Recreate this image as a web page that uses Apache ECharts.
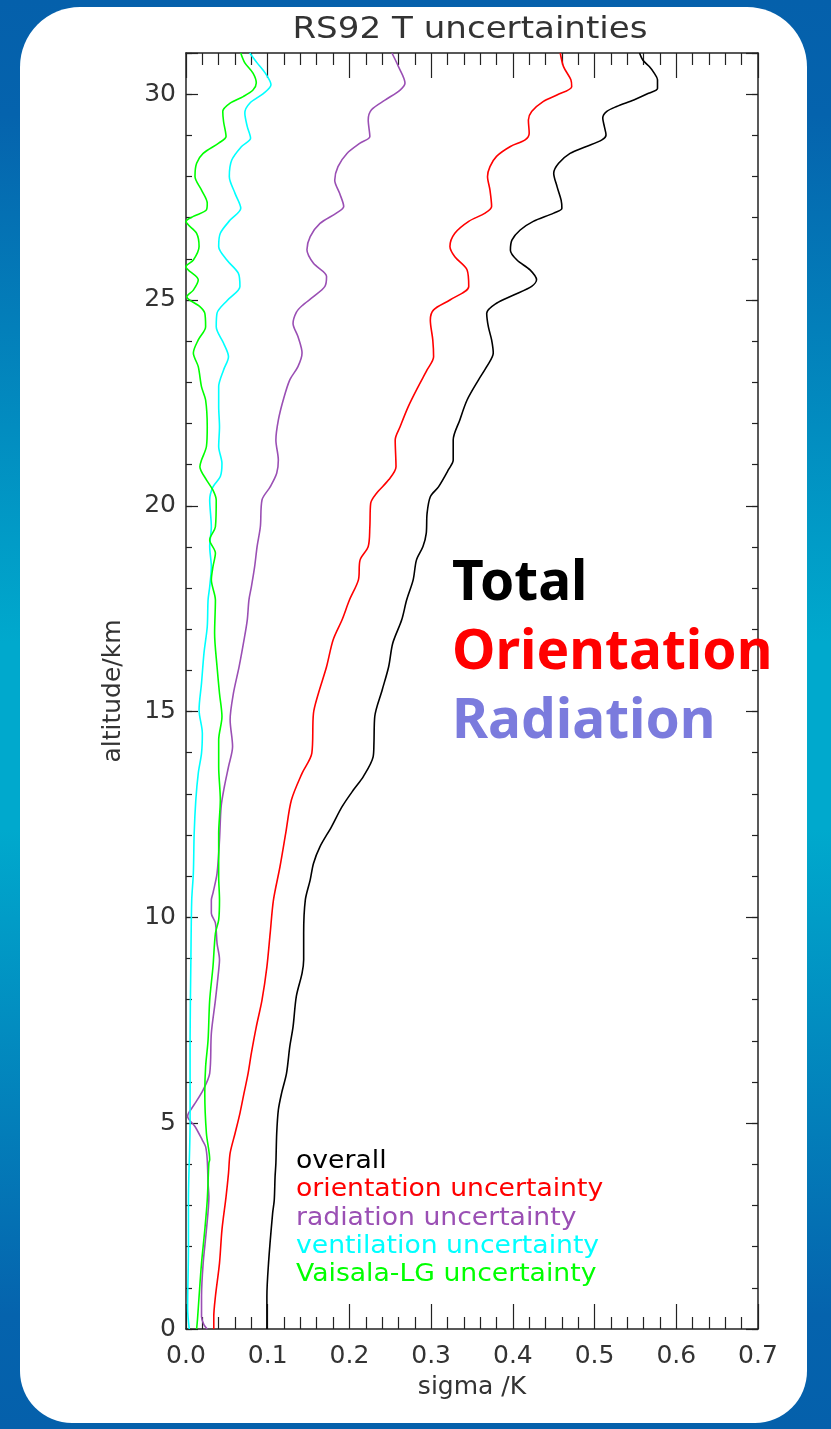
<!DOCTYPE html>
<html>
<head>
<meta charset="utf-8">
<script src="https://cdn.jsdelivr.net/npm/echarts@6/dist/echarts.min.js"></script>
<style>
html,body{margin:0;padding:0;background:#fff;}
#chart{width:831px;height:1429px;}
</style>
</head>
<body>
<div id="chart"></div>
<script>
// ---- data: [sigma (K), altitude (km)] ----
const overall = [[0.099,0],[0.099,0.14],[0.099,0.79],[0.101,1.6],[0.106,2.81],[0.108,3.13],[0.109,3.7],[0.110,4.03],[0.111,4.75],[0.113,5.32],[0.117,5.73],[0.123,6.21],[0.127,6.86],[0.131,7.34],[0.135,8.08],[0.142,8.64],[0.144,8.97],[0.144,9.61],[0.146,10.42],[0.152,10.91],[0.156,11.31],[0.164,11.72],[0.178,12.2],[0.191,12.69],[0.205,13.1],[0.217,13.42],[0.229,13.9],[0.230,14.23],[0.231,14.88],[0.240,15.52],[0.248,16.09],[0.253,16.66],[0.264,17.23],[0.270,17.71],[0.278,18.2],[0.282,18.68],[0.290,19.01],[0.294,19.33],[0.295,19.81],[0.299,20.22],[0.309,20.46],[0.321,20.87],[0.327,21.11],[0.327,21.6],[0.335,22.08],[0.344,22.57],[0.358,23.06],[0.368,23.38],[0.376,23.71],[0.374,24.03],[0.370,24.35],[0.368,24.68],[0.380,24.92],[0.401,25.12],[0.423,25.33],[0.429,25.49],[0.421,25.73],[0.405,25.97],[0.397,26.21],[0.399,26.46],[0.409,26.7],[0.425,26.91],[0.450,27.11],[0.460,27.23],[0.459,27.43],[0.454,27.76],[0.450,28.08],[0.456,28.32],[0.470,28.56],[0.490,28.73],[0.509,28.89],[0.514,29.01],[0.512,29.21],[0.510,29.42],[0.515,29.58],[0.527,29.7],[0.548,29.86],[0.566,30.02],[0.577,30.14],[0.577,30.35],[0.573,30.51],[0.567,30.67],[0.559,30.83],[0.555,31]];
const orientation = [[0.034,0],[0.034,0.3],[0.036,0.79],[0.041,1.6],[0.044,2.41],[0.049,3.21],[0.052,3.78],[0.054,4.27],[0.060,4.75],[0.066,5.24],[0.071,5.73],[0.076,6.21],[0.080,6.7],[0.086,7.34],[0.093,7.99],[0.099,8.8],[0.103,9.61],[0.107,10.42],[0.115,11.23],[0.122,12.04],[0.129,12.85],[0.142,13.5],[0.154,13.99],[0.156,14.96],[0.162,15.44],[0.172,16.09],[0.180,16.74],[0.191,17.23],[0.200,17.71],[0.211,18.2],[0.213,18.68],[0.223,19.01],[0.225,19.49],[0.226,20.06],[0.233,20.3],[0.248,20.63],[0.257,20.95],[0.256,21.6],[0.262,21.92],[0.272,22.41],[0.284,22.89],[0.295,23.3],[0.303,23.62],[0.302,24.03],[0.299,24.51],[0.303,24.76],[0.323,25.0],[0.346,25.33],[0.344,25.73],[0.329,26.05],[0.323,26.3],[0.329,26.62],[0.346,26.91],[0.366,27.11],[0.374,27.27],[0.372,27.67],[0.369,28.0],[0.372,28.24],[0.380,28.49],[0.397,28.73],[0.415,28.89],[0.420,29.05],[0.419,29.37],[0.423,29.58],[0.437,29.82],[0.454,29.98],[0.472,30.18],[0.471,30.35],[0.462,30.67],[0.458,31]];
const radiation = [[0.026,0],[0.022,0.1],[0.019,0.3],[0.019,0.79],[0.021,1.6],[0.025,2.41],[0.028,3.21],[0.027,3.54],[0.026,4.11],[0.024,4.43],[0.020,4.59],[0.011,4.92],[0.002,5.16],[0.003,5.24],[0.011,5.48],[0.021,5.81],[0.029,6.21],[0.031,7.18],[0.036,7.99],[0.040,8.72],[0.041,8.97],[0.038,9.37],[0.036,9.86],[0.031,10.1],[0.031,10.42],[0.033,10.59],[0.038,11.07],[0.041,11.88],[0.043,12.69],[0.047,13.18],[0.052,13.66],[0.057,14.15],[0.054,14.8],[0.058,15.44],[0.065,16.09],[0.071,16.74],[0.075,17.23],[0.077,17.71],[0.080,18.03],[0.084,18.52],[0.087,19.01],[0.091,19.49],[0.093,20.14],[0.103,20.46],[0.111,20.79],[0.113,21.11],[0.110,21.6],[0.113,22.08],[0.119,22.57],[0.127,23.06],[0.137,23.38],[0.142,23.71],[0.137,24.11],[0.131,24.43],[0.135,24.7],[0.142,24.86],[0.156,25.08],[0.170,25.33],[0.172,25.57],[0.156,25.89],[0.148,26.22],[0.152,26.54],[0.164,26.86],[0.184,27.11],[0.193,27.27],[0.188,27.59],[0.182,27.91],[0.186,28.24],[0.197,28.56],[0.213,28.81],[0.225,28.97],[0.223,29.37],[0.227,29.62],[0.244,29.86],[0.262,30.1],[0.268,30.27],[0.260,30.67],[0.252,31]];
const ventilation = [[0.004,0],[0.002,0.5],[0.003,2.0],[0.003,3.13],[0.005,5.0],[0.005,7.0],[0.006,9.0],[0.007,10.42],[0.009,11.07],[0.010,12.04],[0.012,12.85],[0.015,13.5],[0.019,13.99],[0.020,14.47],[0.016,15.04],[0.019,15.69],[0.022,16.42],[0.026,17.06],[0.027,17.71],[0.029,18.03],[0.031,18.52],[0.029,19.01],[0.031,19.49],[0.029,20.14],[0.033,20.46],[0.042,20.71],[0.044,21.03],[0.040,21.44],[0.041,21.92],[0.040,22.41],[0.040,22.89],[0.046,23.3],[0.052,23.62],[0.046,23.95],[0.037,24.35],[0.038,24.68],[0.051,25.0],[0.066,25.33],[0.064,25.65],[0.050,25.97],[0.040,26.3],[0.042,26.62],[0.054,26.94],[0.067,27.23],[0.060,27.59],[0.053,28.0],[0.056,28.4],[0.068,28.73],[0.079,28.93],[0.075,29.21],[0.072,29.54],[0.078,29.78],[0.095,30.02],[0.104,30.23],[0.097,30.51],[0.087,30.76],[0.078,31]];
const vaisala = [[0.013,0],[0.014,0.22],[0.016,0.79],[0.019,1.6],[0.023,2.41],[0.026,3.13],[0.028,4.03],[0.029,4.11],[0.025,4.75],[0.023,5.73],[0.024,6.37],[0.027,7.02],[0.029,7.99],[0.033,8.8],[0.036,9.61],[0.040,9.94],[0.041,10.42],[0.040,10.99],[0.040,12.04],[0.042,12.85],[0.040,13.66],[0.040,14.31],[0.044,14.88],[0.041,15.44],[0.038,16.09],[0.035,16.9],[0.036,17.71],[0.031,18.2],[0.033,18.52],[0.036,18.85],[0.029,19.17],[0.036,19.49],[0.037,20.14],[0.033,20.38],[0.025,20.63],[0.017,20.95],[0.019,21.11],[0.025,21.44],[0.026,21.92],[0.024,22.57],[0.019,22.89],[0.015,23.38],[0.009,23.71],[0.015,24.03],[0.024,24.35],[0.023,24.68],[0.017,24.84],[0.001,25.08],[0.009,25.24],[0.015,25.49],[0.0,25.81],[0.009,25.97],[0.016,26.3],[0.013,26.62],[0.0,26.91],[0.009,27.03],[0.025,27.19],[0.026,27.35],[0.019,27.67],[0.011,28.0],[0.013,28.32],[0.021,28.56],[0.040,28.81],[0.049,28.97],[0.046,29.33],[0.045,29.58],[0.054,29.78],[0.070,29.94],[0.082,30.1],[0.086,30.27],[0.082,30.51],[0.072,30.76],[0.067,31]];

const seriesNames = ['overall','orientation uncertainty','radiation uncertainty','ventilation uncertainty','Vaisala-LG uncertainty'];
const seriesData = [overall, orientation, radiation, ventilation, vaisala];
const seriesColors = ['#000000','#ff0000','#9a4fb4','#00ffff','#00ff00'];
const bigLabels = ['Total','Orientation','Radiation'];
const bigColors = ['#000000','#ff0000','#7b7bdd'];
const titleText = 'RS92 T uncertainties';
const xTicks = {min:0, max:0.7, interval:0.1};
const yTicks = {min:0, max:31, interval:5, minor:1};

const thin = "'DejaVu Sans',sans-serif";
const axisCol = '#222';
const txtCol = '#333';

const chart = echarts.init(document.getElementById('chart'), null, {renderer:'canvas'});

const G = {left:186, right:73, top:53, bottom:100};

function xAx(pos, labels){
  return {
    type:'value', position:pos, min:xTicks.min, max:xTicks.max, interval:xTicks.interval,
    axisLine:{show:true, onZero:false, lineStyle:{color:axisCol, width:1.5}},
    axisTick:{show:true, inside:true, length:25, lineStyle:{color:axisCol, width:1.2}},
    minorTick:{show:true, splitNumber:5, length:12, lineStyle:{color:axisCol, width:1.2}},
    splitLine:{show:false}, minorSplitLine:{show:false},
    axisLabel:{show:labels, margin:15, fontFamily:thin, fontSize:25, color:txtCol,
      formatter:v=>v.toFixed(1)},
    name: labels ? 'sigma /K' : '', nameLocation:'middle', nameGap:46,
    nameTextStyle:{fontFamily:thin, fontSize:25, color:txtCol}
  };
}
function yAx(pos, major, labels){
  return {
    type:'value', position:pos, min:yTicks.min, max:yTicks.max,
    interval: major ? yTicks.interval : yTicks.minor,
    axisLine:{show:major, onZero:false, lineStyle:{color:axisCol, width:1.5}},
    axisTick:{show:true, inside:true, length: major ? 12 : 6, lineStyle:{color:axisCol, width:1.2}},
    splitLine:{show:false},
    axisLabel:{show:labels, margin:10, fontFamily:thin, fontSize:25, color:txtCol,
      formatter:v=> (v % yTicks.interval === 0 ? String(v) : '')},
    name: labels ? 'altitude/km' : '', nameLocation:'middle', nameGap:60, nameRotate:90,
    nameTextStyle:{fontFamily:thin, fontSize:25, color:txtCol}
  };
}

const legendGraphics = seriesNames.map((n,i)=>({
  type:'text', x:296, y:1150 + i*28.2, scaleX:1.11, z:50, silent:true,
  style:{text:n, fill:seriesColors[i], textVerticalAlign:'top', verticalAlign:'top',
    font:"24px 'DejaVu Sans',sans-serif"}
}));
const bigGraphics = bigLabels.map((n,i)=>({
  type:'text', x:452, y:557 + i*69, z:50, silent:true,
  style:{text:n, fill:bigColors[i], textVerticalAlign:'top', verticalAlign:'top',
    font:"bold 55px 'Comic Sans MS','Noto Sans',sans-serif"}
}));
const titleGraphic = {
  type:'text', x:470, y:14, scaleX:1.1, z:50, silent:true,
  style:{text:titleText, fill:txtCol, textAlign:'center', align:'center',
    textVerticalAlign:'top', verticalAlign:'top', font:"31px 'DejaVu Sans',sans-serif"}
};

const option = {
  animation:false,
  backgroundColor:'transparent',
  grid:G,
  xAxis:[xAx('bottom', true), xAx('top', false)],
  yAxis:[yAx('left', true, true), yAx('left', false, false), yAx('right', true, false), yAx('right', false, false)],
  graphic:[
    {type:'rect', left:0, top:0, z:-100, silent:true, shape:{width:831, height:1429},
      style:{fill:new echarts.graphic.LinearGradient(0,0,0,1,[
        {offset:0, color:'#0560ab'},{offset:0.08, color:'#0563ad'},{offset:0.45, color:'#00a9cd'},{offset:0.58, color:'#00a9cd'},{offset:0.92, color:'#0563ad'},{offset:1, color:'#0560ab'}])}},
    {type:'rect', left:20, top:7, z:-99, silent:true, shape:{width:787, height:1416, r:[60,60,52,52]},
      style:{fill:'#ffffff'}},
    titleGraphic, ...legendGraphics, ...bigGraphics
  ],
  series: seriesData.map((d,i)=>({
    name:seriesNames[i], type:'line', data:d, xAxisIndex:0, yAxisIndex:0,
    showSymbol:false, smooth:0.3, clip:true,
    lineStyle:{color:seriesColors[i], width:1.6}, itemStyle:{color:seriesColors[i]}
  }))
};
chart.setOption(option);
</script>
</body>
</html>
